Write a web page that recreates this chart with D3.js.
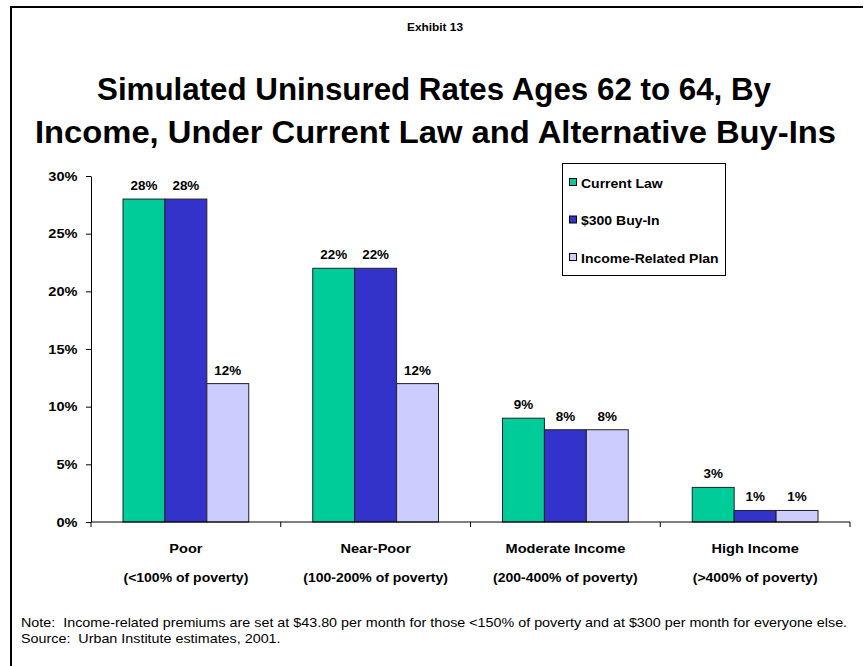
<!DOCTYPE html>
<html>
<head>
<meta charset="utf-8">
<script src="https://cdn.jsdelivr.net/npm/d3@7/dist/d3.min.js"></script>
<style>
  html, body { margin: 0; padding: 0; background: #fff; }
  svg { display: block; font-family: "Liberation Sans", Arial, sans-serif; }
</style>
</head>
<body>
<svg id="chart" width="865" height="666"></svg>
<script>
// Income groups and their poverty ranges
const categories = ["Poor", "Near-Poor", "Moderate Income", "High Income"];
const categoryNotes = ["(<100% of poverty)", "(100-200% of poverty)", "(200-400% of poverty)", "(>400% of poverty)"];

// Series names and uninsured rates (%)
const seriesNames = ["Current Law", "$300 Buy-In", "Income-Related Plan"];
const currentLaw = [28, 22, 9, 3];
const buyIn300 = [28, 22, 8, 1];
const incomeRelated = [12, 12, 8, 1];
const seriesColors = ["#00cc99", "#3333cc", "#ccccff"];

// Y-axis ticks (%)
const yTicks = [0, 5, 10, 15, 20, 25, 30];

const seriesValues = [currentLaw, buyIn300, incomeRelated];

// Slightly widened lettering used throughout
const SX = 1.12;

const svg = d3.select("#chart");

function label(parent, x, y, str, size, opts = {}) {
  const t = parent.append("text")
    .attr("transform", `translate(${x},${y}) scale(${opts.sx ?? SX},1)`)
    .attr("text-anchor", opts.anchor || "start")
    .attr("font-size", size)
    .attr("font-weight", opts.bold === false ? "normal" : "bold")
    .attr("fill", "#000")
    .text(str);
  return t;
}

// Outer frame (left and top edges)
svg.append("path")
  .attr("d", "M11,666 L11,7 L863,7")
  .attr("fill", "none").attr("stroke", "#000").attr("stroke-width", 2);

// Headings
label(svg, 435, 31, "Exhibit 13", 11, { anchor: "middle", sx: 1.08 });
svg.append("text").attr("x", 434).attr("y", 100).attr("text-anchor", "middle")
  .attr("font-size", 32).attr("font-weight", "bold")
  .attr("textLength", 674).attr("lengthAdjust", "spacingAndGlyphs")
  .text("Simulated Uninsured Rates Ages 62 to 64, By");
svg.append("text").attr("x", 435.5).attr("y", 143).attr("text-anchor", "middle")
  .attr("font-size", 32).attr("font-weight", "bold")
  .attr("textLength", 801).attr("lengthAdjust", "spacingAndGlyphs")
  .text("Income, Under Current Law and Alternative Buy-Ins");

// Plot area
const plot = { left: 91, right: 850, top: 176, bottom: 522 };

const x0 = d3.scaleBand().domain(categories).range([plot.left, plot.right]).paddingInner(0).paddingOuter(0);
const groupPad = 32;
const x1 = d3.scaleBand().domain(seriesNames)
  .range([groupPad, x0.bandwidth() - groupPad]).padding(0);
const y = d3.scaleLinear().domain([0, 30]).range([plot.bottom, plot.top]);

// Bars with value labels
const groups = svg.append("g").selectAll("g").data(categories).join("g")
  .attr("transform", d => `translate(${x0(d)},0)`);

groups.each(function(cat, ci) {
  const g = d3.select(this);
  seriesNames.forEach((s, si) => {
    const v = seriesValues[si][ci];
    g.append("rect")
      .attr("x", x1(s)).attr("y", y(v))
      .attr("width", x1.bandwidth()).attr("height", y(0) - y(v))
      .attr("fill", seriesColors[si])
      .attr("stroke", "#222").attr("stroke-width", 1);
    label(g, x1(s) + x1.bandwidth() / 2, y(v) - 9, v + "%", 12, { anchor: "middle" });
  });
});

// Y axis
const yAxis = d3.axisLeft(y).tickValues(yTicks).tickFormat(d => d + "%").tickSize(5).tickSizeOuter(0);
const gy = svg.append("g").attr("transform", `translate(${plot.left},0)`).call(yAxis);
gy.select(".domain").attr("stroke", "#000");
gy.selectAll(".tick line").attr("stroke", "#000");
gy.selectAll(".tick text")
  .attr("font-size", 13).attr("font-weight", "bold")
  .attr("font-family", "Liberation Sans, Arial, sans-serif").attr("fill", "#000")
  .attr("x", -13.5 / SX)
  .attr("transform", `scale(${SX},1)`);

// X axis with boundary ticks between groups
const xAxis = svg.append("g").attr("transform", `translate(0,${plot.bottom})`);
xAxis.append("line").attr("x1", plot.left).attr("x2", plot.right).attr("stroke", "#000");
const boundaries = categories.map(c => x0(c)).concat([x0(categories[categories.length - 1]) + x0.bandwidth()]);
xAxis.selectAll("line.tick").data(boundaries).join("line").attr("class", "tick")
  .attr("x1", d => d).attr("x2", d => d).attr("y1", 0).attr("y2", 5).attr("stroke", "#000");

// Category labels
categories.forEach((c, i) => {
  const cx = x0(c) + x0.bandwidth() / 2;
  label(svg, cx, 553, c, 13, { anchor: "middle" });
  label(svg, cx, 582, categoryNotes[i], 12.5, { anchor: "middle" });
});

// Legend
const legend = svg.append("g");
legend.append("rect").attr("x", 562.5).attr("y", 163.5).attr("width", 163).attr("height", 112)
  .attr("fill", "#fff").attr("stroke", "#000").attr("stroke-width", 1);
seriesNames.forEach((s, i) => {
  const ly = 183 + i * 37.5;
  legend.append("rect").attr("x", 569.5).attr("y", ly - 4.5).attr("width", 7).attr("height", 7)
    .attr("fill", seriesColors[i]).attr("stroke", "#000").attr("stroke-width", 1);
  label(legend, 581, ly + 4.5, s, 12.5);
});

// Footnotes
label(svg, 21, 627, "Note:  Income-related premiums are set at $43.80 per month for those <150% of poverty and at $300 per month for everyone else.", 12.8, { bold: false })
  .style("white-space", "pre");
label(svg, 21, 643, "Source:  Urban Institute estimates, 2001.", 12.8, { bold: false })
  .style("white-space", "pre");
</script>
</body>
</html>
